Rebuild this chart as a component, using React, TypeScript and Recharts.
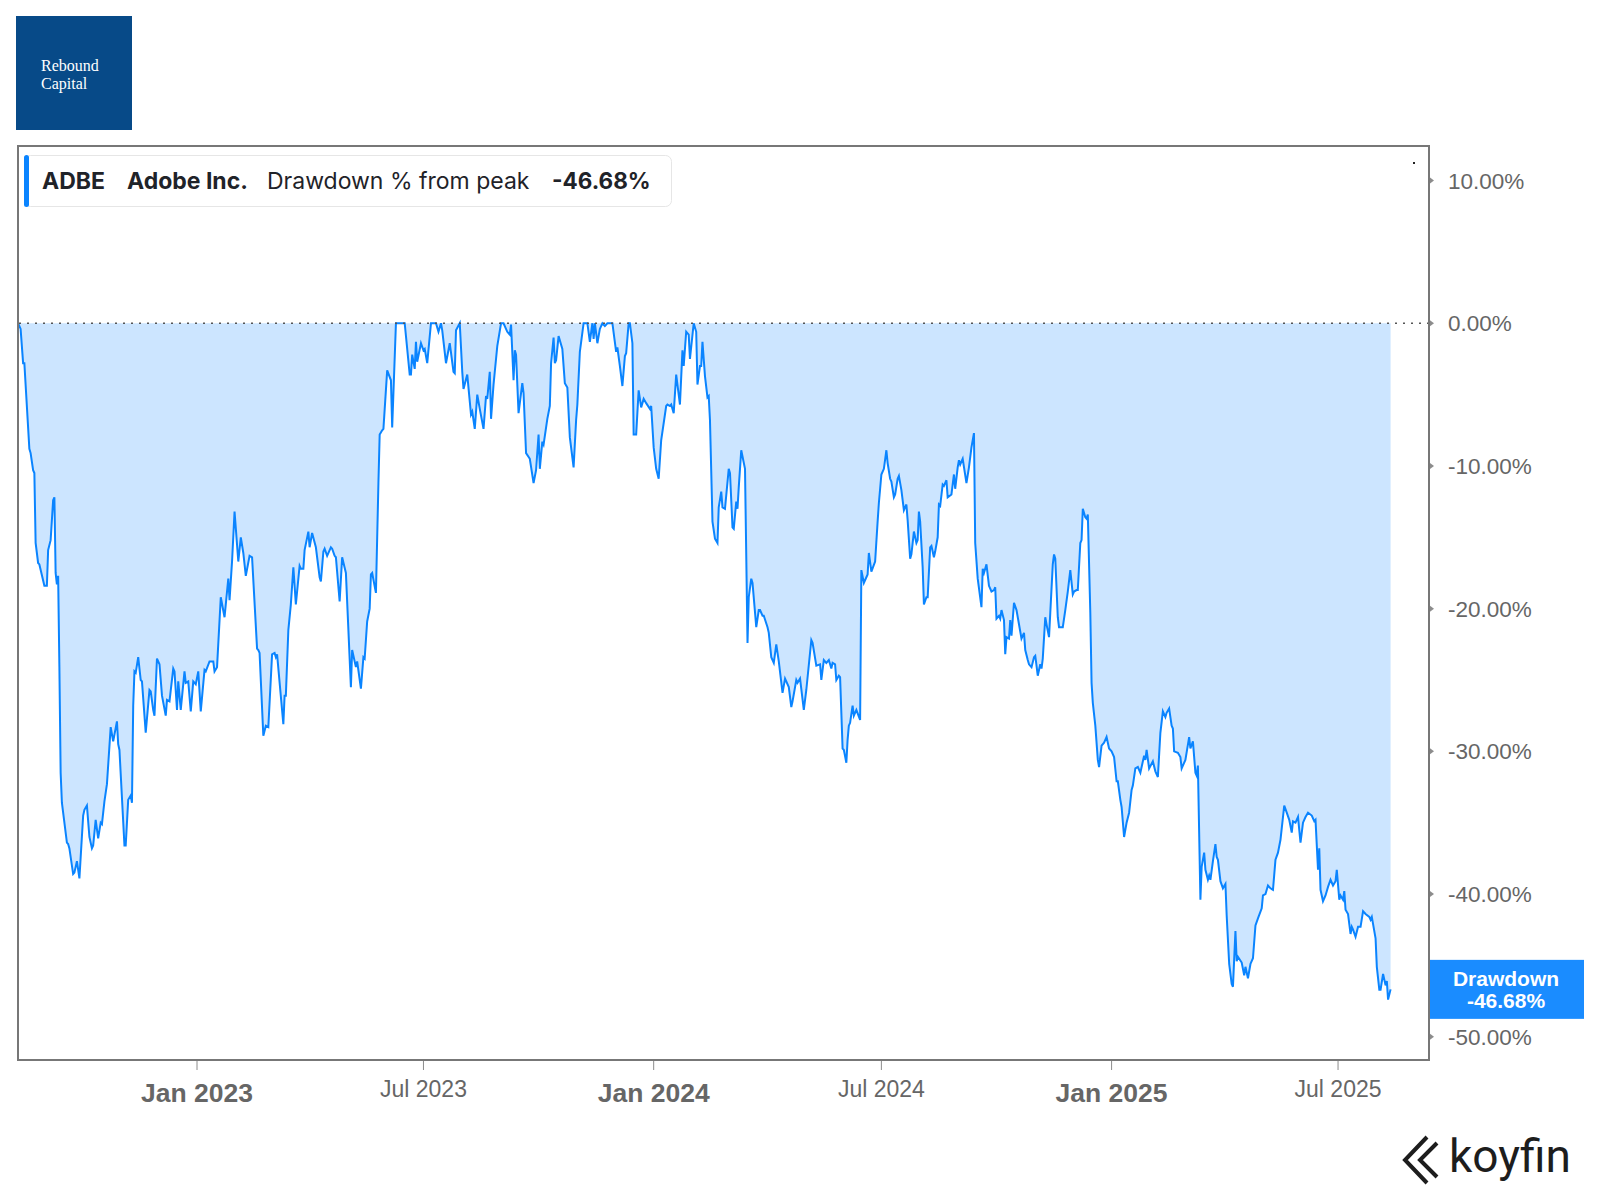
import { AreaChart, Area, XAxis, YAxis, ReferenceLine } from 'recharts'

// ADBE drawdown from running peak
const dates: string[] = [
    // 2022
    '2022-08-11', '2022-08-13', '2022-08-15', '2022-08-16', '2022-08-20', '2022-08-21', '2022-08-23', '2022-08-24', '2022-08-25', '2022-08-27', '2022-08-28',
    '2022-09-01', '2022-09-03', '2022-09-04', '2022-09-06', '2022-09-08', '2022-09-09', '2022-09-10', '2022-09-11', '2022-09-12', '2022-09-13', '2022-09-14', '2022-09-15', '2022-09-19', '2022-09-20', '2022-09-21', '2022-09-24', '2022-09-25', '2022-09-27', '2022-09-29',
    '2022-10-02', '2022-10-03', '2022-10-05', '2022-10-07', '2022-10-09', '2022-10-10', '2022-10-12', '2022-10-14', '2022-10-16', '2022-10-17', '2022-10-19', '2022-10-21', '2022-10-24', '2022-10-26', '2022-10-29', '2022-10-30', '2022-10-31',
    '2022-11-04', '2022-11-05', '2022-11-07', '2022-11-09', '2022-11-10', '2022-11-11', '2022-11-12', '2022-11-13', '2022-11-15', '2022-11-17', '2022-11-18', '2022-11-21', '2022-11-24', '2022-11-25', '2022-11-27', '2022-11-28', '2022-11-30',
    '2022-12-02', '2022-12-04', '2022-12-07', '2022-12-08', '2022-12-10', '2022-12-13', '2022-12-14', '2022-12-16', '2022-12-17', '2022-12-19', '2022-12-22', '2022-12-23', '2022-12-25', '2022-12-27', '2022-12-29', '2022-12-31',
    // 2023
    '2023-01-02', '2023-01-04', '2023-01-07', '2023-01-08', '2023-01-11', '2023-01-14', '2023-01-15', '2023-01-17', '2023-01-20', '2023-01-23', '2023-01-26', '2023-01-27', '2023-01-29', '2023-01-31',
    '2023-02-03', '2023-02-05', '2023-02-07', '2023-02-09', '2023-02-12', '2023-02-14', '2023-02-18', '2023-02-19', '2023-02-20', '2023-02-23', '2023-02-25', '2023-02-27',
    '2023-03-02', '2023-03-04', '2023-03-05', '2023-03-06', '2023-03-11', '2023-03-12', '2023-03-13', '2023-03-15', '2023-03-17', '2023-03-19', '2023-03-21', '2023-03-24', '2023-03-25', '2023-03-27', '2023-03-28', '2023-03-31',
    '2023-04-01', '2023-04-03', '2023-04-06', '2023-04-09', '2023-04-10', '2023-04-12', '2023-04-13', '2023-04-15', '2023-04-18', '2023-04-19', '2023-04-21', '2023-04-22', '2023-04-25', '2023-04-27', '2023-04-30',
    '2023-05-04', '2023-05-05', '2023-05-08', '2023-05-09', '2023-05-12', '2023-05-14', '2023-05-15', '2023-05-17', '2023-05-19', '2023-05-20', '2023-05-21', '2023-05-24', '2023-05-26', '2023-05-27', '2023-05-29', '2023-05-30',
    '2023-06-02', '2023-06-05', '2023-06-06', '2023-06-09', '2023-06-16', '2023-06-20', '2023-06-21', '2023-06-22', '2023-06-24', '2023-06-25', '2023-06-26', '2023-06-29',
    '2023-07-01', '2023-07-02', '2023-07-04', '2023-07-07', '2023-07-11', '2023-07-13', '2023-07-15', '2023-07-16', '2023-07-19', '2023-07-22', '2023-07-25', '2023-07-26', '2023-07-27', '2023-07-30',
    '2023-08-01', '2023-08-02', '2023-08-05', '2023-08-08', '2023-08-09', '2023-08-11', '2023-08-13', '2023-08-15', '2023-08-18', '2023-08-20', '2023-08-21', '2023-08-23', '2023-08-24', '2023-08-26', '2023-08-27', '2023-08-29',
    '2023-09-01', '2023-09-03', '2023-09-06', '2023-09-08', '2023-09-09', '2023-09-11', '2023-09-12', '2023-09-13', '2023-09-15', '2023-09-18', '2023-09-19', '2023-09-21', '2023-09-24', '2023-09-27', '2023-09-29',
    '2023-10-01', '2023-10-02', '2023-10-04', '2023-10-05', '2023-10-08', '2023-10-10', '2023-10-11', '2023-10-13', '2023-10-14', '2023-10-15', '2023-10-17', '2023-10-20', '2023-10-22', '2023-10-24', '2023-10-26', '2023-10-29', '2023-10-31',
    '2023-11-01', '2023-11-03', '2023-11-06', '2023-11-09', '2023-11-11', '2023-11-13', '2023-11-14', '2023-11-15', '2023-11-17', '2023-11-19', '2023-11-21', '2023-11-23', '2023-11-25', '2023-11-29',
    '2023-12-02', '2023-12-03', '2023-12-05', '2023-12-07', '2023-12-09', '2023-12-10', '2023-12-12', '2023-12-13', '2023-12-15', '2023-12-16', '2023-12-18', '2023-12-20', '2023-12-22', '2023-12-24', '2023-12-26', '2023-12-29', '2023-12-30',
    // 2024
    '2024-01-01', '2024-01-03', '2024-01-05', '2024-01-07', '2024-01-11', '2024-01-12', '2024-01-14', '2024-01-15', '2024-01-17', '2024-01-19', '2024-01-22', '2024-01-24', '2024-01-25', '2024-01-27', '2024-01-29', '2024-01-30',
    '2024-02-02', '2024-02-04', '2024-02-05', '2024-02-07', '2024-02-08', '2024-02-09', '2024-02-11', '2024-02-13', '2024-02-14', '2024-02-15', '2024-02-17', '2024-02-19', '2024-02-21', '2024-02-22', '2024-02-24', '2024-02-25', '2024-02-27',
    '2024-03-01', '2024-03-02', '2024-03-04', '2024-03-05', '2024-03-07', '2024-03-08', '2024-03-09', '2024-03-11', '2024-03-14', '2024-03-16', '2024-03-17', '2024-03-19', '2024-03-20', '2024-03-23', '2024-03-25', '2024-03-26', '2024-03-28', '2024-03-29',
    '2024-04-01', '2024-04-02', '2024-04-04', '2024-04-06', '2024-04-08', '2024-04-10', '2024-04-13', '2024-04-15', '2024-04-18', '2024-04-20', '2024-04-21', '2024-04-24', '2024-04-25', '2024-04-27', '2024-04-30',
    '2024-05-02', '2024-05-06', '2024-05-07', '2024-05-10', '2024-05-13', '2024-05-14', '2024-05-16', '2024-05-18', '2024-05-20', '2024-05-22', '2024-05-23', '2024-05-25', '2024-05-26', '2024-05-28', '2024-05-29', '2024-05-31',
    '2024-06-01', '2024-06-03', '2024-06-04', '2024-06-05', '2024-06-06', '2024-06-08', '2024-06-09', '2024-06-11', '2024-06-14', '2024-06-15', '2024-06-17', '2024-06-19', '2024-06-20', '2024-06-21', '2024-06-23', '2024-06-26', '2024-06-28', '2024-06-29',
    '2024-07-01', '2024-07-03', '2024-07-05', '2024-07-06', '2024-07-08', '2024-07-09', '2024-07-11', '2024-07-12', '2024-07-14', '2024-07-15', '2024-07-17', '2024-07-19', '2024-07-21', '2024-07-22', '2024-07-24', '2024-07-25', '2024-07-27', '2024-07-29', '2024-07-30', '2024-07-31',
    '2024-08-01', '2024-08-03', '2024-08-04', '2024-08-06', '2024-08-07', '2024-08-09', '2024-08-10', '2024-08-12', '2024-08-13', '2024-08-15', '2024-08-16', '2024-08-17', '2024-08-19', '2024-08-20', '2024-08-22', '2024-08-23', '2024-08-26', '2024-08-28', '2024-08-29', '2024-08-31',
    '2024-09-01', '2024-09-02', '2024-09-04', '2024-09-07', '2024-09-09', '2024-09-11', '2024-09-13', '2024-09-14', '2024-09-16', '2024-09-19', '2024-09-20', '2024-09-21', '2024-09-23', '2024-09-25', '2024-09-27', '2024-09-29', '2024-09-30',
    '2024-10-01', '2024-10-03', '2024-10-04', '2024-10-05', '2024-10-07', '2024-10-08', '2024-10-09', '2024-10-11', '2024-10-12', '2024-10-13', '2024-10-15', '2024-10-17', '2024-10-20', '2024-10-21', '2024-10-23', '2024-10-24', '2024-10-26', '2024-10-27', '2024-10-29', '2024-10-31',
    '2024-11-01', '2024-11-03', '2024-11-05', '2024-11-06', '2024-11-07', '2024-11-09', '2024-11-10', '2024-11-12', '2024-11-13', '2024-11-15', '2024-11-16', '2024-11-17', '2024-11-19', '2024-11-20', '2024-11-23', '2024-11-25', '2024-11-27', '2024-11-29',
    '2024-12-01', '2024-12-02', '2024-12-04', '2024-12-05', '2024-12-07', '2024-12-08', '2024-12-09', '2024-12-11', '2024-12-12', '2024-12-13', '2024-12-15', '2024-12-16', '2024-12-17', '2024-12-19', '2024-12-21', '2024-12-22', '2024-12-24', '2024-12-26', '2024-12-28', '2024-12-30',
    // 2025
    '2025-01-01', '2025-01-03', '2025-01-05', '2025-01-06', '2025-01-08', '2025-01-09', '2025-01-11', '2025-01-13', '2025-01-15', '2025-01-17', '2025-01-18', '2025-01-20', '2025-01-22', '2025-01-24', '2025-01-27', '2025-01-28', '2025-01-29', '2025-01-31',
    '2025-02-03', '2025-02-05', '2025-02-07', '2025-02-09', '2025-02-11', '2025-02-13', '2025-02-14', '2025-02-16', '2025-02-18', '2025-02-19', '2025-02-20', '2025-02-23', '2025-02-25', '2025-02-26',
    '2025-03-01', '2025-03-04', '2025-03-05', '2025-03-07', '2025-03-09', '2025-03-10', '2025-03-11', '2025-03-13', '2025-03-14', '2025-03-16', '2025-03-17', '2025-03-19', '2025-03-20', '2025-03-21', '2025-03-23', '2025-03-25', '2025-03-26', '2025-03-27', '2025-03-29', '2025-03-31',
    '2025-04-02', '2025-04-03', '2025-04-05', '2025-04-07', '2025-04-08', '2025-04-10', '2025-04-11', '2025-04-12', '2025-04-15', '2025-04-17', '2025-04-18', '2025-04-20', '2025-04-22', '2025-04-24', '2025-04-26', '2025-04-28',
    '2025-05-01', '2025-05-02', '2025-05-04', '2025-05-06', '2025-05-08', '2025-05-10', '2025-05-12', '2025-05-14', '2025-05-16', '2025-05-19', '2025-05-21', '2025-05-23', '2025-05-25', '2025-05-26', '2025-05-28', '2025-05-30',
    '2025-06-01', '2025-06-03', '2025-06-05', '2025-06-07', '2025-06-10', '2025-06-12', '2025-06-13', '2025-06-15', '2025-06-16', '2025-06-17', '2025-06-19', '2025-06-21', '2025-06-23', '2025-06-25', '2025-06-27', '2025-06-29', '2025-06-30',
    '2025-07-02', '2025-07-03', '2025-07-05', '2025-07-06', '2025-07-07', '2025-07-09', '2025-07-11', '2025-07-12', '2025-07-13', '2025-07-15', '2025-07-17', '2025-07-19', '2025-07-21', '2025-07-23', '2025-07-26', '2025-07-27', '2025-07-28', '2025-07-31',
    '2025-08-01', '2025-08-03', '2025-08-04', '2025-08-06', '2025-08-08', '2025-08-09', '2025-08-10', '2025-08-12',
]

const drawdown: number[] = [
    // 2022
    0, -0.4, -2.8, -2.8, -8.8, -9.1, -10.3, -10.5, -15.4, -16.8, -16.9,
    -18.4, -18.4, -15.9, -15.2, -12.4, -12.2, -17.5, -18.3, -17.7, -24.1, -31.5, -33.6, -36.4, -36.5, -36.8, -38.6, -38.5, -37.7, -38.9,
    -34.5, -34.1, -33.8, -36.0, -36.8, -36.6, -34.8, -36.1, -35.0, -35.1, -33.5, -32.3, -28.3, -29.3, -27.9, -29.5, -29.9,
    -36.6, -36.6, -33.4, -33.1, -33.6, -26.8, -24.4, -24.5, -23.4, -25.0, -25.1, -28.7, -25.7, -25.8, -27.1, -27.5, -23.5,
    -23.9, -26.1, -27.5, -26.4, -26.5, -24.2, -24.4, -27.1, -25.1, -27.1, -24.4, -25.2, -25.1, -27.2, -25.1, -25.3,
    // 2023
    -24.4, -27.2, -24.3, -24.4, -23.7, -23.7, -24.4, -24.1, -19.2, -20.6, -17.9, -19.4, -16.7, -13.2,
    -16.7, -15.0, -16.1, -17.7, -16.3, -16.4, -22.8, -22.9, -23.1, -28.9, -28.2, -28.3,
    -23.2, -23.1, -23.4, -23.2, -28.1, -26.1, -26.1, -21.5, -19.7, -17.1, -19.7, -17.0, -17.2, -17.2, -15.9, -14.6,
    -15.7, -14.7, -15.7, -17.8, -18.1, -16.0, -15.8, -16.3, -15.7, -15.8, -16.3, -16.4, -19.5, -16.4, -17.5,
    -25.5, -22.9, -24.1, -23.7, -25.6, -23.4, -23.5, -20.9, -20.0, -17.6, -17.5, -18.9, -11.2, -7.8, -7.5, -7.4,
    -3.3, -4.0, -7.3, 0, 0, -3.6, -3.6, -2.2, -3.2, -1.3, -2.7, -1.4,
    -1.9, -1.8, -2.8, 0, 0, -0.6, 0, -0.5, -2.8, -1.4, -3.4, -3.5, -0.5, 0,
    -3.4, -4.6, -3.6, -6.4, -6.2, -7.4, -5.0, -6.0, -7.4, -5.1, -5.3, -3.4, -6.7, -4.3, -3.4, -1.6,
    0, 0, -0.6, -0.8, -0.1, -4.0, -1.9, -2.2, -6.3, -4.2, -4.9, -9.1, -9.5, -11.2, -10.3,
    -7.8, -10.2, -8.3, -8.5, -6.7, -5.8, -2.8, -1.0, -2.8, -2.6, -0.9, -1.8, -4.2, -4.5, -8.0, -10.1, -6.8,
    -5.7, -2.0, 0, 0, -1.3, 0, -1.1, 0, -1.4, -0.4, 0, -0.2, 0, 0,
    -2.0, -1.7, -3.0, -4.4, -2.3, -2.1, 0, 0, -1.4, -7.8, -7.8, -4.7, -5.9, -5.3, -5.6, -6.0, -5.8,
    // 2024
    -8.7, -10.2, -10.9, -8.2, -5.8, -5.7, -5.8, -5.7, -6.3, -3.6, -5.7, -1.9, -3.0, -0.6, -0.8, -2.5,
    0, -0.6, -4.3, -3.0, -3.0, -1.3, -3.7, -5.2, -5.1, -6.8, -13.9, -15.1, -15.4, -12.9, -11.8, -12.9, -13.0,
    -10.2, -10.5, -14.3, -14.4, -12.5, -13.0, -11.5, -8.9, -10.2, -22.4, -19.2, -17.9, -18.2, -21.3, -20.1, -20.1, -20.5, -20.5,
    -21.3, -21.7, -23.4, -23.8, -22.5, -23.7, -25.9, -24.9, -25.5, -26.9, -26.5, -25.0, -25.2, -24.9, -27.1,
    -25.7, -22.2, -22.4, -24.0, -23.9, -25.0, -23.6, -23.8, -23.6, -24.2, -23.8, -23.9, -25.0, -24.7, -24.8, -29.8,
    -29.9, -30.8, -29.2, -28.2, -28.0, -26.8, -27.5, -27.1, -27.8, -17.3, -18.2, -17.8, -17.6, -16.1, -17.4, -16.7, -13.9, -12.6,
    -10.6, -10.2, -8.9, -9.8, -10.9, -11.1, -12.2, -12.0, -10.9, -10.7, -11.7, -13.1, -12.7, -13.8, -16.5, -16.2, -14.6, -15.4, -15.2, -13.2,
    -13.9, -17.1, -19.7, -19.2, -19.2, -15.7, -15.6, -16.4, -16.0, -15.0, -12.7, -12.8, -11.3, -11.4, -11.0, -12.2, -12.0, -10.6, -11.6, -10.1,
    -9.6, -9.9, -9.5, -11.2, -10.1, -8.7, -7.7, -15.4, -17.9, -19.9, -17.2, -17.5, -16.9, -18.4, -18.8, -18.7, -18.5,
    -20.7, -20.5, -20.7, -20.1, -20.8, -23.2, -22.0, -22.1, -20.8, -21.9, -19.6, -20.1, -21.6, -22.1, -21.7, -22.9, -23.6, -23.9, -24.1, -23.4,
    -23.3, -24.7, -23.9, -24.2, -23.5, -20.6, -21.1, -22.0, -20.3, -16.9, -16.2, -16.5, -20.6, -21.3, -21.3, -20.1, -18.8, -17.3,
    -19.0, -18.8, -18.7, -18.7, -15.4, -15.2, -13.0, -13.6, -13.7, -13.4, -20.3, -25.2, -26.6, -28.2, -30.6, -31.1, -29.6, -29.4, -29.0, -29.8,
    // 2025
    -30.0, -30.4, -32.1, -32.1, -33.4, -33.9, -36.0, -35.0, -34.3, -32.7, -32.4, -31.2, -31.1, -31.5, -30.3, -30.6, -29.9, -31.2,
    -30.7, -31.4, -31.8, -28.7, -27.2, -27.6, -27.3, -27.0, -28.2, -28.4, -30.0, -30.1, -30.4, -31.2,
    -30.6, -29.0, -29.8, -29.3, -31.5, -31.7, -31.0, -40.4, -38.1, -37.1, -38.3, -39.0, -38.7, -39.0, -37.7, -36.5, -37.4, -37.6, -39.1, -39.6,
    -39.3, -41.5, -44.9, -46.3, -46.5, -42.6, -44.7, -44.4, -44.8, -45.7, -45.1, -45.9, -44.9, -44.5, -42.2, -41.7,
    -41.0, -40.1, -40.0, -39.4, -39.6, -39.7, -37.6, -37.1, -36.2, -33.8, -34.3, -34.8, -35.7, -34.9, -35.0, -34.6,
    -36.4, -35.0, -34.6, -34.3, -34.5, -34.9, -34.8, -38.3, -36.8, -39.7, -40.5, -40.1, -39.5, -39.0, -39.4, -39.1, -38.3,
    -40.4, -40.1, -40.4, -39.8, -41.1, -41.4, -42.8, -42.3, -42.5, -43.0, -42.3, -42.3, -41.2, -41.4, -41.6, -41.8, -41.6, -43.1,
    -45.1, -46.7, -46.7, -45.6, -46.4, -46.1, -47.4, -46.68,
]

const xTickDates = ['2023-01-01', '2023-07-01', '2024-01-01', '2024-07-01', '2025-01-01', '2025-07-01']
const xTickLabels = ['Jan 2023', 'Jul 2023', 'Jan 2024', 'Jul 2024', 'Jan 2025', 'Jul 2025']
const yTicks = [10, 0, -10, -20, -30, -40, -50]

const ticker = 'ADBE'
const company = 'Adobe Inc.'
const metric = 'Drawdown % from peak'
const seriesName = 'Drawdown'
const brandLines = ['Rebound', 'Capital']

const toTime = (d: string) => Date.parse(d + 'T00:00:00Z')

const chartData = dates.map((d, i) => ({ t: toTime(d), dd: drawdown[i] }))
const xTickTimes = xTickDates.map(toTime)
const lastValue = drawdown[drawdown.length - 1]
const fmtPct = (v: number) => `${v.toFixed(2)}%`

const AXIS_FONT = '"Liberation Sans", Arial, Helvetica, sans-serif'
const UI_FONT = 'Inter, "Noto Sans", sans-serif'
const SERIF = '"Liberation Serif", "DejaVu Serif", serif'
const LINE = '#0a84ff'

const XTick = ({ x, y, payload }: any) => {
    const label = xTickLabels[xTickTimes.indexOf(payload.value)] ?? ''
    const major = label.startsWith('Jan')
    return (
        <g>
            <line x1={x} x2={x} y1={y} y2={y + 10} stroke='#8c8c8c' strokeWidth={1} />
            <text
                x={x}
                y={major ? y + 42 : y + 37}
                textAnchor='middle'
                fill='#666'
                fontFamily={AXIS_FONT}
                fontSize={major ? 26.5 : 23}
                fontWeight={major ? 700 : 400}
            >
                {label}
            </text>
        </g>
    )
}

const YTick = ({ x, y, payload }: any) => (
    <g>
        <path d={`M${x + 1},${y - 3} L${x + 5},${y} L${x + 1},${y + 3} Z`} fill='#8c8c8c' />
        <text x={x + 19} y={y + 8} fill='#666' fontFamily={AXIS_FONT} fontSize={22.5}>
            {fmtPct(payload.value)}
        </text>
    </g>
)

const LastTag = (props: any) => {
    const vb = props.viewBox
    if (!vb) return null
    const x = vb.x + vb.width + 1
    const y = vb.y
    return (
        <g>
            <rect x={x} y={y - 29.5} width={154} height={59} fill='#1a8cff' />
            <text x={x + 76} y={y - 3} textAnchor='middle' fill='#fff' fontFamily={AXIS_FONT} fontWeight={700} fontSize={21}>
                {seriesName}
            </text>
            <text x={x + 76} y={y + 19} textAnchor='middle' fill='#fff' fontFamily={AXIS_FONT} fontWeight={700} fontSize={21}>
                {fmtPct(lastValue)}
            </text>
        </g>
    )
}

export default function App() {
    return (
        <div style={{ position: 'absolute', left: 0, top: 0, width: 1600, height: 1200, background: '#fff' }}>
            <AreaChart
                width={1600}
                height={1200}
                data={chartData}
                margin={{ top: 146, right: 0, bottom: 0, left: 18 }}
            >
                <XAxis
                    dataKey='t'
                    type='number'
                    scale='linear'
                    domain={[Date.UTC(2022, 7, 10, 22), Date.UTC(2025, 8, 11, 17)]}
                    allowDataOverflow
                    ticks={xTickTimes}
                    interval={0}
                    height={140}
                    axisLine={false}
                    tickLine={false}
                    tickSize={0}
                    tickMargin={0}
                    tick={(p: any) => <XTick {...p} />}
                />
                <YAxis
                    orientation='right'
                    type='number'
                    domain={[-51.63, 12.42]}
                    allowDataOverflow
                    ticks={yTicks}
                    interval={0}
                    width={171}
                    axisLine={false}
                    tickLine={false}
                    tickSize={0}
                    tickMargin={0}
                    tick={(p: any) => <YTick {...p} />}
                />
                <Area
                    type='linear'
                    dataKey='dd'
                    stroke={LINE}
                    strokeWidth={2}
                    fill='#cce5ff'
                    fillOpacity={1}
                    baseValue={0}
                    dot={false}
                    activeDot={false}
                    isAnimationActive={false}
                />
                <ReferenceLine y={0} stroke='#555' strokeWidth={1.5} strokeDasharray='2 6' />
                <ReferenceLine y={lastValue} stroke='none' label={(p: any) => <LastTag {...p} />} />
            </AreaChart>

            <svg
                width={1600}
                height={1200}
                style={{ position: 'absolute', left: 0, top: 0, pointerEvents: 'none' }}
            >
                {/* brand block */}
                <rect x={16} y={16} width={116} height={114} fill='#074a88' />
                <text x={41} y={71} fill='#fff' fontFamily={SERIF} fontSize={16}>{brandLines[0]}</text>
                <text x={41} y={88.5} fill='#fff' fontFamily={SERIF} fontSize={16}>{brandLines[1]}</text>

                {/* plot frame */}
                <rect x={18} y={146} width={1411} height={914} fill='none' stroke='#777' strokeWidth={2} />
                <rect x={1413} y={162} width={2} height={2} fill='#222' />

                {/* legend */}
                <rect x={24.5} y={155.5} width={647} height={51} rx={6} fill='#fff' stroke='#e6e6e6' />
                <rect x={24} y={155} width={5} height={52} rx={2.5} fill={LINE} />
                <g fontFamily={UI_FONT} fontSize={23} fill='#1f2329'>
                    <text x={42} y={189} fontWeight={700}>{ticker}</text>
                    <text x={127} y={189} fontWeight={700}>{company}</text>
                    <text x={267} y={189}>{metric}</text>
                    <text x={552} y={189} fontWeight={700} fontSize={22.5}>{fmtPct(lastValue)}</text>
                </g>

                {/* koyfin mark */}
                <g fill='none' stroke='#1d1d1d' strokeWidth={4} strokeLinejoin='miter'>
                    <polyline points='1427,1137 1405,1160 1427,1183' />
                    <polyline points='1437,1143 1420,1160 1437,1177' />
                </g>
                <text x={1449} y={1172} fill='#1d1d1d' fontFamily='Roboto, "Liberation Sans", sans-serif' fontSize={46}>
                    koyfin
                </text>
            </svg>
        </div>
    )
}
